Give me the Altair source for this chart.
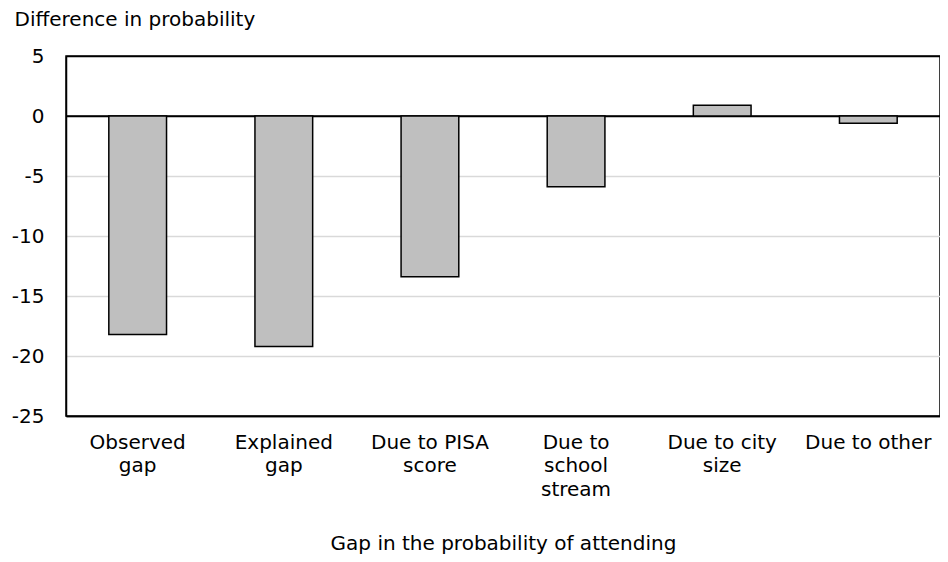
import altair as alt
import pandas as pd

categories = ["Observed gap", "Explained gap", "Due to PISA score",
              "Due to school stream", "Due to city size", "Due to other"]
label_lines = ["Observed|gap", "Explained|gap", "Due to PISA|score",
               "Due to|school|stream", "Due to city|size", "Due to other"]
values = [-18.2, -19.2, -13.4, -5.9, 0.9, -0.6]
y_ticks = [5, 0, -5, -10, -15, -20, -25]

df = pd.DataFrame({"category": categories, "value": values, "label": label_lines})

label_map = "{" + ",".join(f"'{c}':'{l}'" for c, l in zip(categories, label_lines)) + "}"

FONT = "DejaVu Sans"
FS = 20

x_enc = alt.X(
    "category:N", sort=categories,
    scale=alt.Scale(paddingInner=0.605, paddingOuter=0.293),
    axis=alt.Axis(
        title="Gap in the probability of attending",
        labelAngle=0, ticks=False, domain=True, domainColor="black", domainWidth=1.5,
        labelExpr=f"split({label_map}[datum.label], '|')",
        labelFont=FONT, labelFontSize=FS, labelColor="black",
        labelLineHeight=23.5, labelPadding=16, labelBaseline="top",
        titleFont=FONT, titleFontSize=FS, titleFontWeight="normal", titleColor="black",
        titleY=137, titleBaseline="bottom",
    ),
)

bars = alt.Chart(df).mark_bar(
    fill="#BFBFBF", stroke="black", strokeWidth=1.5
).encode(
    x=x_enc,
    y=alt.Y(
        "value:Q",
        scale=alt.Scale(domain=[-25, 5], nice=False, zero=False),
        axis=alt.Axis(
            title="Difference in probability",
            values=y_ticks,
            labelExpr="'' + datum.value",
            ticks=False, domain=True, domainColor="black", domainWidth=1.5,
            grid=True,
            gridColor={"condition": {"test": "datum.value == 5 || datum.value == -25 || datum.value == 0",
                                     "value": "black"},
                       "value": "#D9D9D9"},
            gridWidth=1.5,
            labelFont=FONT, labelFontSize=FS, labelColor="black", labelPadding=22,
            titleFont=FONT, titleFontSize=FS, titleFontWeight="normal", titleColor="black",
            titleAngle=0, titleAlign="left", titleBaseline="middle",
            titleX=-52, titleY=-37,
        ),
    ),
)

zero_df = pd.DataFrame({"zero": [0]})
zero_rule = alt.Chart(zero_df).mark_rule(color="black", strokeWidth=1.5).encode(y="zero:Q")

chart = alt.layer(zero_rule, bars).properties(
    width=874, height=360,
    background="white",
    autosize=alt.AutoSizeParams(type="none"),
    padding={"left": 58, "top": 48, "right": 0, "bottom": 138},
).configure_view(
    stroke="black", strokeWidth=1.5
)

chart.save("out.html", embed_options={"renderer": "svg", "actions": False})
